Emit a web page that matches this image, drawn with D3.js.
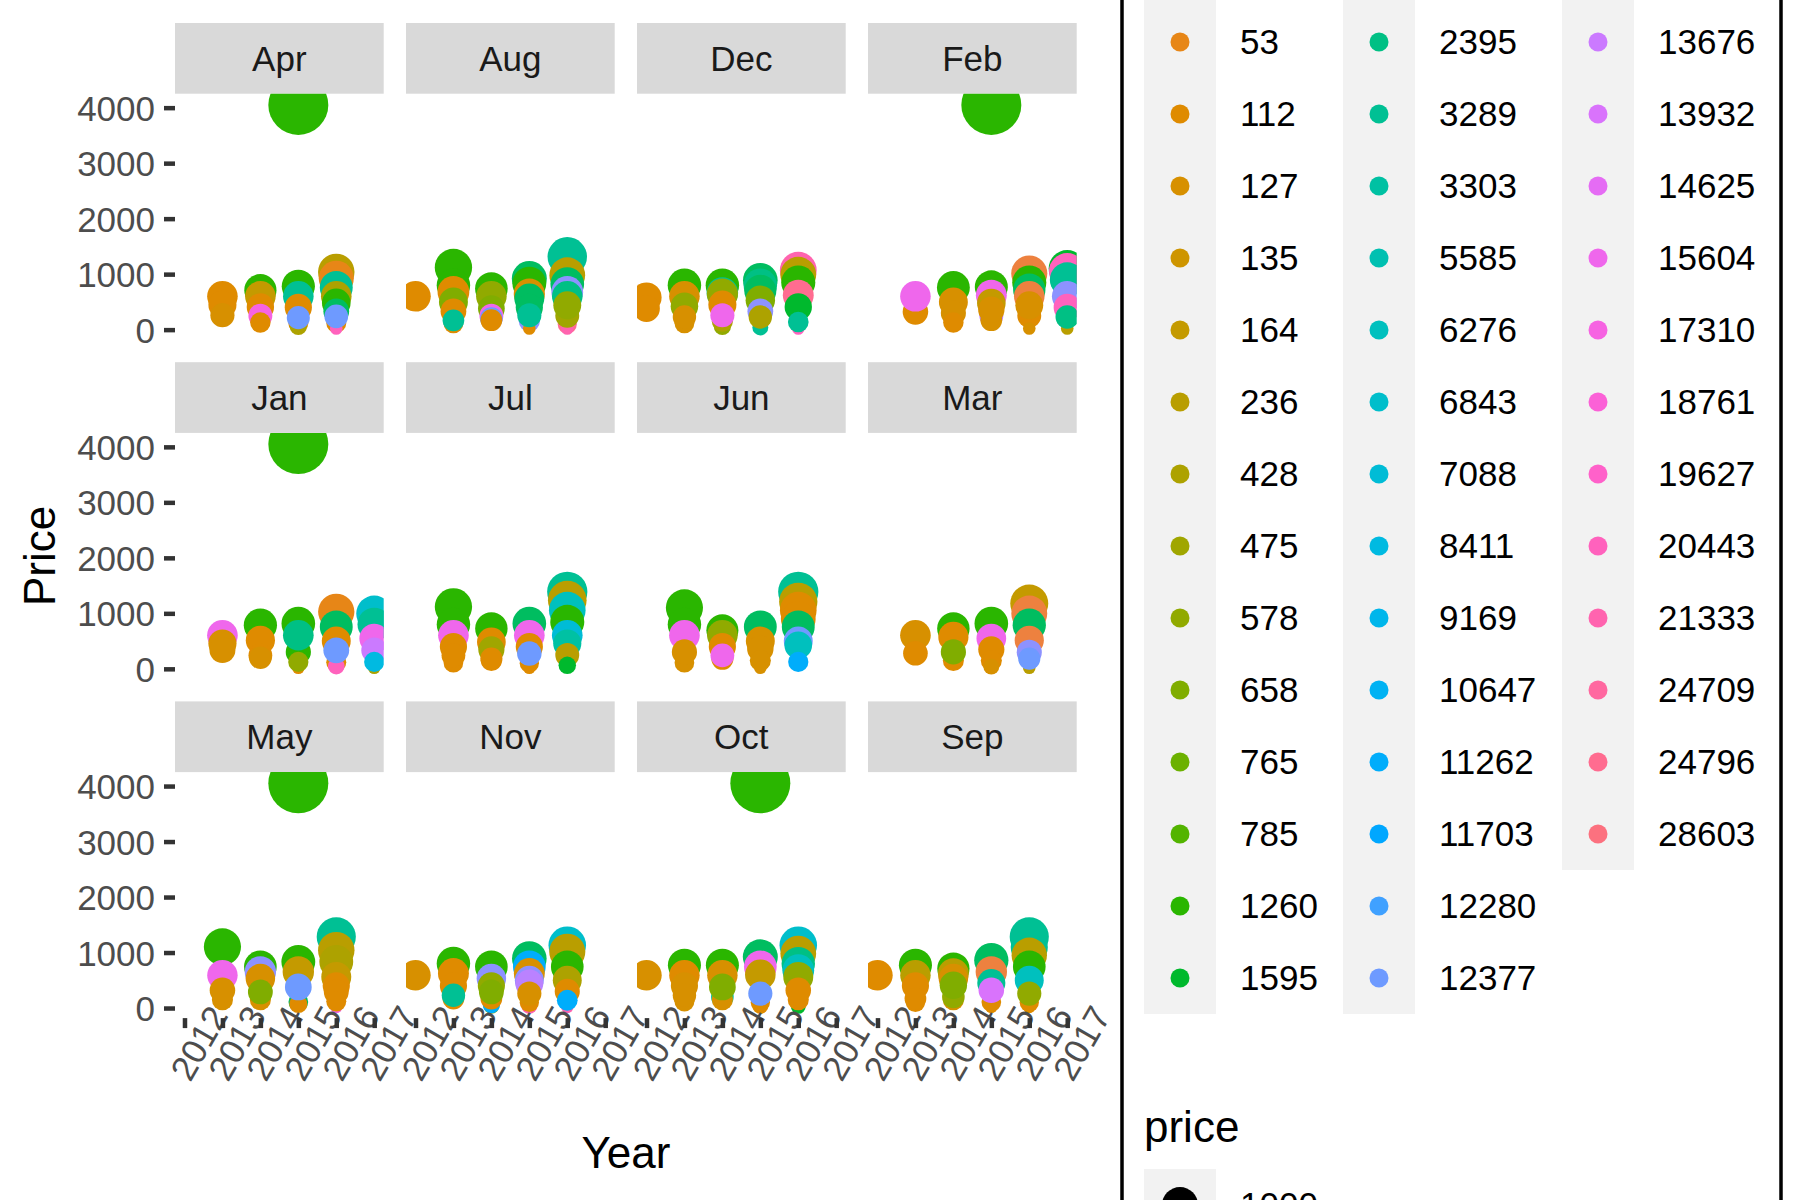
<!DOCTYPE html>
<html>
<head>
<meta charset="utf-8">
<script src="https://cdn.jsdelivr.net/npm/d3@7"></script>
<style>
body { margin: 0; background: #fff; }
svg { display: block; }
text { font-family: "Liberation Sans", Arial, sans-serif; }
</style>
</head>
<body>
<script>
// facets and axes
const months = ["Apr", "Aug", "Dec", "Feb", "Jan", "Jul", "Jun", "Mar", "May", "Nov", "Oct", "Sep"];
const years = [2012, 2013, 2014, 2015, 2016, 2017];
const priceTicks = [0, 1000, 2000, 3000, 4000];

// colour legend: 49 levels on the hue wheel, 17 rows per column,
// the first 3 rows of every column fall above the picture
const nLevels = 49;
const hiddenRows = 3;
const legendCol1 = [53, 112, 127, 135, 164, 236, 428, 475, 578, 658, 765, 785, 1260, 1595];
const legendCol2 = [2395, 3289, 3303, 5585, 6276, 6843, 7088, 8411, 9169, 10647, 11262, 11703, 12280, 12377];
const legendCol3 = [13676, 13932, 14625, 15604, 17310, 18761, 19627, 20443, 21333, 24709, 24796, 28603];
const sizeBreaks = [1000];

// points per month: [year, price, colour level]
const apr = [
  [2013, 600, 5], [2013, 450, 5], [2013, 260, 6],
  [2014, 710, 16], [2014, 600, 8], [2014, 410, 5], [2014, 250, 42], [2014, 130, 5],
  [2015, 4050, 16], [2015, 782, 16], [2015, 601, 22], [2015, 400, 5], [2015, 120, 5], [2015, 60, 10], [2015, 216, 34],
  [2016, 1040, 9], [2016, 925, 4], [2016, 760, 22], [2016, 600, 10], [2016, 481, 16], [2016, 330, 19], [2016, 120, 5], [2016, 20, 45], [2016, 240, 34]
];
const aug = [
  [2012, 600, 5],
  [2013, 1120, 16], [2013, 800, 16], [2013, 680, 5], [2013, 499, 13], [2013, 330, 5], [2013, 110, 5], [2013, 168, 22],
  [2014, 740, 16], [2014, 600, 12], [2014, 379, 13], [2014, 250, 41], [2014, 200, 34], [2014, 170, 5],
  [2015, 921, 19], [2015, 830, 16], [2015, 640, 6], [2015, 560, 19], [2015, 400, 19], [2015, 150, 35], [2015, 20, 5], [2015, 258, 22],
  [2016, 1312, 22], [2016, 981, 9], [2016, 820, 19], [2016, 680, 35], [2016, 600, 21], [2016, 100, 48], [2016, 20, 46], [2016, 250, 11], [2016, 439, 12]
];
const dec = [
  [2012, 578, 5], [2012, 380, 5],
  [2013, 800, 16], [2013, 600, 6], [2013, 420, 12], [2013, 110, 6], [2013, 228, 6],
  [2014, 800, 16], [2014, 660, 22], [2014, 640, 12], [2014, 450, 5], [2014, 60, 12], [2014, 150, 10], [2014, 258, 41],
  [2015, 890, 19], [2015, 800, 21], [2015, 700, 19], [2015, 529, 13], [2015, 330, 35], [2015, 40, 22], [2015, 228, 10],
  [2016, 1071, 46], [2016, 990, 9], [2016, 850, 16], [2016, 620, 48], [2016, 408, 17], [2016, 20, 45], [2016, 137, 22]
];
const feb = [
  [2013, 320, 5], [2013, 600, 41],
  [2014, 758, 16], [2014, 499, 6], [2014, 300, 6], [2014, 130, 5],
  [2015, 4050, 16], [2015, 770, 16], [2015, 620, 41], [2015, 250, 37], [2015, 170, 6], [2015, 480, 8], [2015, 360, 6],
  [2016, 1011, 3], [2016, 850, 16], [2016, 720, 19], [2016, 600, 3], [2016, 250, 5], [2016, 20, 6], [2016, 439, 6],
  [2017, 1100, 17], [2017, 1050, 45], [2017, 900, 22], [2017, 600, 35], [2017, 400, 45], [2017, 20, 9], [2017, 228, 21]
];
const jan = [
  [2013, 605, 41], [2013, 455, 6], [2013, 340, 6],
  [2014, 786, 16], [2014, 515, 5], [2014, 244, 5], [2014, 200, 6],
  [2015, 4050, 16], [2015, 816, 16], [2015, 304, 16], [2015, 605, 21], [2015, 20, 5], [2015, 124, 12],
  [2016, 1027, 4], [2016, 756, 19], [2016, 500, 5], [2016, 120, 5], [2016, 50, 45], [2016, 334, 34],
  [2017, 996, 26], [2017, 800, 22], [2017, 545, 41], [2017, 334, 38], [2017, 20, 10], [2017, 124, 28]
];
const jul = [
  [2013, 1117, 16], [2013, 800, 16], [2013, 605, 41], [2013, 400, 5], [2013, 110, 5], [2013, 244, 5],
  [2014, 726, 16], [2014, 485, 5], [2014, 350, 11], [2014, 150, 5], [2014, 184, 5],
  [2015, 816, 19], [2015, 605, 41], [2015, 400, 5], [2015, 100, 5], [2015, 20, 5], [2015, 274, 34],
  [2016, 1388, 22], [2016, 1237, 9], [2016, 1057, 25], [2016, 846, 16], [2016, 605, 27], [2016, 455, 23], [2016, 250, 9], [2016, 63, 17]
];
const jun = [
  [2013, 1099, 16], [2013, 800, 16], [2013, 605, 41], [2013, 110, 6], [2013, 304, 6],
  [2014, 696, 16], [2014, 605, 12], [2014, 400, 5], [2014, 180, 5], [2014, 244, 41],
  [2015, 756, 19], [2015, 500, 6], [2015, 364, 6], [2015, 150, 6], [2015, 20, 6],
  [2016, 1388, 22], [2016, 1207, 9], [2016, 1057, 5], [2016, 900, 5], [2016, 756, 19], [2016, 500, 34], [2016, 424, 25], [2016, 124, 31]
];
const mar = [
  [2013, 605, 6], [2013, 280, 5],
  [2014, 726, 16], [2014, 575, 5], [2014, 150, 5], [2014, 304, 13],
  [2015, 816, 16], [2015, 545, 41], [2015, 350, 5], [2015, 150, 5], [2015, 40, 6],
  [2016, 1177, 8], [2016, 996, 3], [2016, 786, 19], [2016, 515, 3], [2016, 300, 35], [2016, 20, 9], [2016, 184, 34]
];
const may = [
  [2013, 1103, 16], [2013, 591, 41], [2013, 150, 6], [2013, 320, 6],
  [2014, 742, 16], [2014, 651, 35], [2014, 531, 6], [2014, 150, 6], [2014, 290, 13],
  [2015, 4050, 16], [2015, 832, 16], [2015, 651, 8], [2015, 110, 19], [2015, 70, 5], [2015, 380, 34],
  [2016, 1284, 22], [2016, 1043, 9], [2016, 832, 10], [2016, 561, 8], [2016, 400, 5], [2016, 290, 5], [2016, 20, 42], [2016, 120, 5]
];
const nov = [
  [2012, 591, 6],
  [2013, 802, 16], [2013, 621, 5], [2013, 400, 5], [2013, 170, 5], [2013, 230, 22],
  [2014, 742, 16], [2014, 531, 35], [2014, 400, 12], [2014, 40, 12], [2014, 60, 31], [2014, 170, 5], [2014, 290, 13],
  [2015, 892, 19], [2015, 742, 31], [2015, 621, 6], [2015, 500, 35], [2015, 441, 37], [2015, 40, 46], [2015, 100, 5], [2015, 260, 6],
  [2016, 1133, 26], [2016, 1013, 9], [2016, 742, 16], [2016, 500, 10], [2016, 300, 5], [2016, 20, 46], [2016, 140, 31]
];
const oct = [
  [2012, 591, 6],
  [2013, 772, 16], [2013, 591, 5], [2013, 400, 6], [2013, 120, 6], [2013, 230, 6],
  [2014, 772, 16], [2014, 591, 6], [2014, 200, 22], [2014, 150, 6], [2014, 380, 13],
  [2015, 4050, 16], [2015, 922, 19], [2015, 742, 41], [2015, 600, 8], [2015, 40, 5], [2015, 100, 5], [2015, 260, 34],
  [2016, 1133, 26], [2016, 982, 9], [2016, 800, 21], [2016, 682, 25], [2016, 561, 12], [2016, 30, 17], [2016, 150, 5], [2016, 320, 5]
];
const sep = [
  [2012, 591, 5],
  [2013, 772, 16], [2013, 591, 9], [2013, 400, 5], [2013, 100, 5], [2013, 170, 5],
  [2014, 712, 16], [2014, 620, 9], [2014, 531, 6], [2014, 150, 6], [2014, 200, 12], [2014, 411, 13],
  [2015, 862, 19], [2015, 651, 3], [2015, 450, 22], [2015, 20, 5], [2015, 110, 5], [2015, 320, 39],
  [2016, 1284, 22], [2016, 1100, 22], [2016, 950, 9], [2016, 742, 16], [2016, 501, 25], [2016, 20, 5], [2016, 100, 5], [2016, 260, 12]
];
const byMonth = { Apr: apr, Aug: aug, Dec: dec, Feb: feb, Jan: jan, Jul: jul, Jun: jun, Mar: mar, May: may, Nov: nov, Oct: oct, Sep: sep };

// hcl() as in R (polar Luv), the ggplot hue palette
function hclColour(h, c = 100, l = 65) {
  const Xn = 95.047, Yn = 100, Zn = 108.883;
  const un = 4 * Xn / (Xn + 15 * Yn + 3 * Zn), vn = 9 * Yn / (Xn + 15 * Yn + 3 * Zn);
  const hr = h * Math.PI / 180;
  const Y = Yn * Math.pow((l + 16) / 116, 3);
  const u = c * Math.cos(hr) / (13 * l) + un, v = c * Math.sin(hr) / (13 * l) + vn;
  const X = 9 * Y * u / (4 * v);
  const Z = -X / 3 - 5 * Y + 3 * Y / v;
  const lin = [
    3.240479 * X - 1.537150 * Y - 0.498535 * Z,
    -0.969256 * X + 1.875992 * Y + 0.041556 * Z,
    0.055648 * X - 0.204043 * Y + 1.057311 * Z
  ].map(t => t / 100);
  const gam = t => { t = Math.max(0, Math.min(1, t)); return t <= 0.0031308 ? 12.92 * t : 1.055 * Math.pow(t, 1 / 2.4) - 0.055; };
  return d3.rgb(...lin.map(t => Math.round(255 * gam(t)))).formatHex();
}
const levelColour = lv => hclColour(15 + 360 * (lv - 1) / nLevels);

//Width and height
const w = 1800;
const h = 1200;
const panelW = 208.7, panelH = 246, colStep = 231, rowStep = 339.2;
const left0 = 175, top0 = 93.7, stripH = 70.7;

const svg = d3.select("body").append("svg").attr("width", w).attr("height", h);
const defs = svg.append("defs");

// scales shared by all panels
const allPoints = Object.values(byMonth).flat();
const [pMin, pMax] = d3.extent(allPoints, d => d[1]);
const yPad = 0.05 * (pMax - pMin);
const y = d3.scaleLinear().domain([pMin - yPad, pMax + yPad]).range([panelH, 0]);
const [yr0, yr1] = d3.extent(years);
const xPad = 0.05 * (yr1 - yr0);
const x = d3.scaleLinear().domain([yr0 - xPad, yr1 + xPad]).range([0, panelW]);
// area scale like scale_size(): radius grows with sqrt of rescaled price
const rLin = d3.scaleLinear().domain([0, 1]).range([6.3, 30]);
const radius = v => rLin(Math.sqrt((v - pMin) / (pMax - pMin)));

months.forEach((m, i) => {
  const col = i % 4, row = Math.floor(i / 4);
  const g = svg.append("g")
    .attr("transform", `translate(${left0 + col * colStep},${top0 + row * rowStep})`);

  // strip
  g.append("rect").attr("y", -stripH).attr("width", panelW).attr("height", stripH).attr("fill", "#D9D9D9");
  g.append("text").attr("x", panelW / 2).attr("y", -stripH / 2).attr("dy", "0.36em")
    .attr("text-anchor", "middle").attr("font-size", 35).attr("fill", "#1A1A1A").text(m);

  defs.append("clipPath").attr("id", "clip" + i)
    .append("rect").attr("width", panelW).attr("height", panelH);

  g.append("g").attr("clip-path", `url(#clip${i})`)
    .selectAll("circle")
    .data(byMonth[m])
    .join("circle")
    .attr("cx", d => x(d[0]))
    .attr("cy", d => y(d[1]))
    .attr("r", d => radius(d[1]))
    .attr("fill", d => levelColour(d[2]));

  if (col === 0) {
    const ay = g.append("g").call(d3.axisLeft(y).tickValues(priceTicks).tickFormat(d3.format("d")).tickSize(11).tickPadding(9));
    ay.select(".domain").remove();
    ay.attr("font-family", null);
    ay.selectAll("line").attr("stroke", "#333").attr("stroke-width", 4.5);
    ay.selectAll("text").attr("font-size", 35).attr("fill", "#4D4D4D").attr("dy", "0.36em");
  }
  if (row === 2) {
    const ax = g.append("g").attr("transform", `translate(0,${panelH})`)
      .call(d3.axisBottom(x).tickValues(years).tickFormat(d3.format("d")).tickSize(10));
    ax.select(".domain").remove();
    ax.attr("font-family", null);
    ax.selectAll("line").attr("stroke", "#333").attr("stroke-width", 4.5);
    ax.selectAll("text")
      .attr("x", 14).attr("y", 25).attr("dy", "0.35em")
      .attr("text-anchor", "middle")
      .attr("transform", "rotate(-60 14 25)")
      .attr("font-size", 35).attr("fill", "#4D4D4D");
  }
});

// axis titles
const panelsTop = top0, panelsBottom = top0 + 2 * rowStep + panelH;
svg.append("text")
  .attr("transform", `translate(55,${(panelsTop + panelsBottom) / 2}) rotate(-90)`)
  .attr("text-anchor", "middle").attr("font-size", 44).attr("fill", "#000").text("Price");
svg.append("text")
  .attr("x", left0 + (3 * colStep + panelW) / 2).attr("y", 1168)
  .attr("text-anchor", "middle").attr("font-size", 44).attr("fill", "#000").text("Year");

// legend box (taller than the picture)
svg.append("rect").attr("x", 1122).attr("y", -60).attr("width", 659).attr("height", 1320)
  .attr("fill", "none").attr("stroke", "#000").attr("stroke-width", 3.5);

const keyH = 72;
const rowsPerCol = Math.ceil(nLevels / 3);
const legendTop = 42 - keyH / 2 - keyH * hiddenRows;
const keyX = [1144, 1343, 1562];
[legendCol1, legendCol2, legendCol3].forEach((labels, c) => {
  const count = Math.min(rowsPerCol, nLevels - c * rowsPerCol);
  svg.append("rect").attr("x", keyX[c]).attr("y", legendTop).attr("width", keyH)
    .attr("height", keyH * count).attr("fill", "#F2F2F2");
  const items = labels.map((lab, j) => ({ lab, row: hiddenRows + j, level: c * rowsPerCol + hiddenRows + j + 1 }));
  const gk = svg.append("g");
  gk.selectAll("circle").data(items).join("circle")
    .attr("cx", keyX[c] + keyH / 2)
    .attr("cy", d => legendTop + keyH * d.row + keyH / 2)
    .attr("r", 9.5)
    .attr("fill", d => levelColour(d.level));
  gk.selectAll("text").data(items).join("text")
    .attr("x", keyX[c] + keyH + 24)
    .attr("y", d => legendTop + keyH * d.row + keyH / 2)
    .attr("dy", "0.35em")
    .attr("font-size", 35).attr("fill", "#000")
    .text(d => d.lab);
});

// size legend, cut by the bottom edge as in the source
svg.append("text").attr("x", 1144).attr("y", 1142).attr("font-size", 44).attr("fill", "#000").text("price");
const sizeTop = 1169;
sizeBreaks.forEach((b, j) => {
  const cy = sizeTop + keyH * j + keyH / 2;
  svg.append("rect").attr("x", 1144).attr("y", sizeTop + keyH * j).attr("width", keyH).attr("height", keyH).attr("fill", "#F2F2F2");
  svg.append("circle").attr("cx", 1144 + keyH / 2).attr("cy", cy).attr("r", radius(b)).attr("fill", "#000");
  svg.append("text").attr("x", 1144 + keyH + 24).attr("y", cy).attr("dy", "0.35em")
    .attr("font-size", 35).attr("fill", "#000").text(d3.format("d")(b));
});
</script>
</body>
</html>
